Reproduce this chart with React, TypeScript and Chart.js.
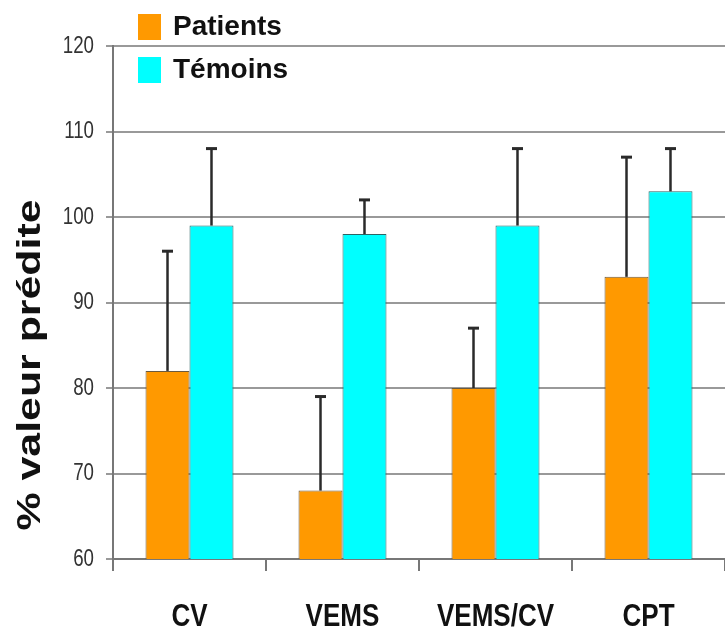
import React, { useEffect, useRef } from "react";
import { Chart, registerables } from "chart.js";

Chart.register(...registerables);

const categories = ["CV", "VEMS", "VEMS/CV", "CPT"];
const patients = [82, 68, 80, 93];
const patientsUpper = [96, 79, 87, 107];
const temoins = [99, 98, 99, 103];
const temoinsUpper = [108, 102, 108, 108];
const yTicks = [60, 70, 80, 90, 100, 110, 120];
const seriesLabels = ["Patients", "Témoins"];
const yTitle = "% valeur prédite";

const SANS = "'Liberation Sans', Arial, sans-serif";

const errorBarPlugin = {
  id: "errorBars",
  afterDatasetsDraw(chart: any) {
    const ctx = chart.ctx;
    const yScale = chart.scales.y;
    const uppers = [patientsUpper, temoinsUpper];
    ctx.save();
    chart.data.datasets.forEach((ds: any, di: number) => {
      const meta = chart.getDatasetMeta(di);
      meta.data.forEach((bar: any, i: number) => {
        const x = bar.x;
        const yTop = bar.y;
        const yErr = yScale.getPixelForValue(uppers[di][i]);
        ctx.strokeStyle = "#2a2a2a";
        ctx.lineWidth = 2.5;
        ctx.beginPath();
        ctx.moveTo(x, yTop);
        ctx.lineTo(x, yErr);
        ctx.stroke();
        ctx.lineWidth = 3;
        ctx.beginPath();
        ctx.moveTo(x - 5.5, yErr);
        ctx.lineTo(x + 5.5, yErr);
        ctx.stroke();
      });
    });
    ctx.restore();
  },
};

function drawScaledText(ctx: any, text: string, x: number, y: number, sx: number, align: string) {
  ctx.save();
  ctx.translate(x, y);
  ctx.scale(sx, 1);
  ctx.textAlign = align;
  ctx.fillText(text, 0, 0);
  ctx.restore();
}

const decorPlugin = {
  id: "decor",
  afterDraw(chart: any) {
    const ctx = chart.ctx;
    ctx.save();
    // legend
    chart.data.datasets.forEach((ds: any, i: number) => {
      const cy = 27 + i * 43;
      ctx.fillStyle = ds.backgroundColor;
      ctx.fillRect(138, cy - 13, 23, 26);
      ctx.fillStyle = "#111";
      ctx.font = "bold 28px " + SANS;
      ctx.textBaseline = "middle";
      ctx.textAlign = "left";
      ctx.fillText(ds.label, 173, cy);
    });
    // y tick labels
    const ys = chart.scales.y;
    ctx.fillStyle = "#333";
    ctx.font = "24px " + SANS;
    ctx.textBaseline = "middle";
    yTicks.forEach((v) => {
      drawScaledText(ctx, String(v), 94, ys.getPixelForValue(v), 0.78, "right");
    });
    // x tick labels
    const xs = chart.scales.x;
    ctx.fillStyle = "#111";
    ctx.font = "bold 31px " + SANS;
    ctx.textBaseline = "middle";
    (chart.data.labels as string[]).forEach((lab, i) => {
      drawScaledText(ctx, lab, xs.getPixelForTick(i), 617, 0.84, "center");
    });
    // y title
    ctx.translate(31, 365);
    ctx.rotate(-Math.PI / 2);
    ctx.scale(1.26, 1);
    ctx.font = "bold 34px " + SANS;
    ctx.textAlign = "center";
    ctx.textBaseline = "middle";
    ctx.fillStyle = "#111";
    ctx.fillText(yTitle, 0, 0);
    ctx.restore();
  },
};

export default function App() {
  const ref = useRef<HTMLCanvasElement>(null);
  useEffect(() => {
    if (!ref.current) return;
    const chart = new Chart(ref.current, {
      type: "bar",
      data: {
        labels: categories,
        datasets: [
          {
            label: seriesLabels[0],
            data: patients,
            backgroundColor: "#FF9900",
            borderColor: "#6a5a40",
            borderWidth: 1,
            barPercentage: 1,
            categoryPercentage: 0.575,
          },
          {
            label: seriesLabels[1],
            data: temoins,
            backgroundColor: "#00FFFF",
            borderColor: "#2f6464",
            borderWidth: 1,
            barPercentage: 1,
            categoryPercentage: 0.575,
          },
        ],
      },
      options: {
        responsive: false,
        animation: false,
        layout: { padding: { top: 46, right: 0, left: 0, bottom: 0 } },
        plugins: { legend: { display: false }, tooltip: { enabled: false } },
        scales: {
          x: {
            grid: {
              drawOnChartArea: false,
              drawTicks: true,
              tickLength: 12,
              color: "#777",
              lineWidth: 2,
            },
            border: { color: "#777", width: 2 },
            ticks: {
              padding: 28,
              color: "rgba(0,0,0,0)",
              font: { family: SANS, size: 22, weight: "bold" },
            },
            afterFit: (s: any) => {
              s.height = 85;
            },
          },
          y: {
            min: 60,
            max: 120,
            afterBuildTicks: (s: any) => {
              s.ticks = yTicks.map((v) => ({ value: v }));
            },
            grid: {
              color: "#999",
              lineWidth: 2,
              tickLength: 7,
            },
            border: { color: "#777", width: 2 },
            ticks: {
              padding: 10,
              color: "rgba(0,0,0,0)",
              font: { family: SANS, size: 17 },
            },
            afterFit: (s: any) => {
              s.width = 113;
            },
          },
        },
      },
      plugins: [errorBarPlugin, decorPlugin],
    });
    return () => chart.destroy();
  }, []);
  return (
    <div style={{ position: "absolute", left: 0, top: 0, width: 725, height: 644, background: "#fff" }}>
      <canvas ref={ref} width={725} height={644} />
    </div>
  );
}
